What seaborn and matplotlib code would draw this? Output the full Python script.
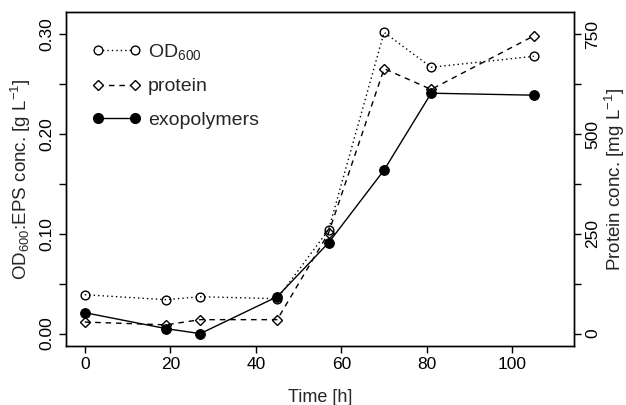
import matplotlib
matplotlib.use("Agg")
import matplotlib.pyplot as plt
import numpy as np
import pandas as pd
import seaborn as sns
from matplotlib.lines import Line2D

# values
time_h = [0, 19, 27, 45, 57, 70, 81, 105]
od600 = [0.039, 0.034, 0.037, 0.035, 0.104, 0.302, 0.267, 0.278]
exopolymers = [0.021, 0.005, 0.000, 0.037, 0.091, 0.164, 0.241, 0.239]
protein = [29, 22, 35, 35, 252, 664, 612, 746]

df = pd.DataFrame({"time": time_h, "od": od600, "eps": exopolymers, "protein": protein})

sns.set_style("ticks")
plt.rcParams["font.family"] = ["Liberation Sans", "DejaVu Sans"]
plt.rcParams["mathtext.fontset"] = "custom"
plt.rcParams["mathtext.rm"] = "Liberation Sans"
plt.rcParams["mathtext.it"] = "Liberation Sans:italic"
plt.rcParams["mathtext.bf"] = "Liberation Sans:bold"

fig = plt.figure(figsize=(6.26, 4.05), dpi=100)
ax = fig.add_axes([0.1054, 0.1457, 0.8115, 0.8247])
ax2 = ax.twinx()

lw = 1.0
dotted = (0, (1, 2.2))
dashed = (0, (4, 3.5))
sns.lineplot(data=df, x="time", y="od", ax=ax, color="black", lw=lw,
             marker="o", markersize=6.3, markerfacecolor="none", markeredgecolor="black",
             markeredgewidth=1, linestyle=dotted)
sns.lineplot(data=df, x="time", y="eps", ax=ax, color="black", lw=lw,
             marker="o", markersize=7, markerfacecolor="black", markeredgecolor="black")
sns.lineplot(data=df, x="time", y="protein", ax=ax2, color="black", lw=lw,
             marker="D", markersize=5, markerfacecolor="none", markeredgecolor="black",
             markeredgewidth=1, linestyle=dashed)

ax.set_xlim(-4.4, 114.4)
ax.set_ylim(-0.0124, 0.3224)
ax2.set_ylim(-0.0124 * 2500, 0.3224 * 2500)

ax.set_xticks([0, 20, 40, 60, 80, 100])
ax.set_yticks([0, 0.1, 0.2, 0.3])
ax.set_yticklabels(["0.00", "0.10", "0.20", "0.30"])
ax.set_yticks([0.05, 0.15, 0.25], minor=True)
ax2.set_yticks([0, 250, 500, 750])
ax2.set_yticks([125, 375, 625], minor=True)

for a in (ax, ax2):
    a.tick_params(which="both", direction="out", length=5, width=1, colors="black",
                  labelsize=12.5, pad=3)
    for s in a.spines.values():
        s.set_visible(True)
        s.set_linewidth(1)
        s.set_color("black")

for lab in ax.get_yticklabels() + ax2.get_yticklabels():
    lab.set_rotation(90)
    lab.set_va("center")

ax.set_xlabel("Time [h]", fontsize=13, labelpad=12)
ax.set_ylabel("OD$_{600}$:EPS conc. [g L$^{-1}$]", fontsize=13.5, labelpad=5)
ax2.set_ylabel("Protein conc. [mg L$^{-1}$]", fontsize=13.5, labelpad=2)

handles = [
    Line2D([], [], color="black", lw=lw, linestyle=dotted, marker="o", markersize=6.3,
           markerfacecolor="white", markeredgecolor="black"),
    Line2D([], [], color="black", lw=lw, linestyle=dashed, marker="D", markersize=5,
           markerfacecolor="white", markeredgecolor="black"),
    Line2D([], [], color="black", lw=lw, marker="o", markersize=7,
           markerfacecolor="black", markeredgecolor="black"),
]
ax.legend(handles, ["OD$_{600}$", "protein", "exopolymers"], loc="upper left",
          bbox_to_anchor=(0.018, 0.962), frameon=False, numpoints=2, handlelength=2.5,
          fontsize=14, labelspacing=0.8, handletextpad=0.35)

fig.savefig("out.png", dpi=100)
